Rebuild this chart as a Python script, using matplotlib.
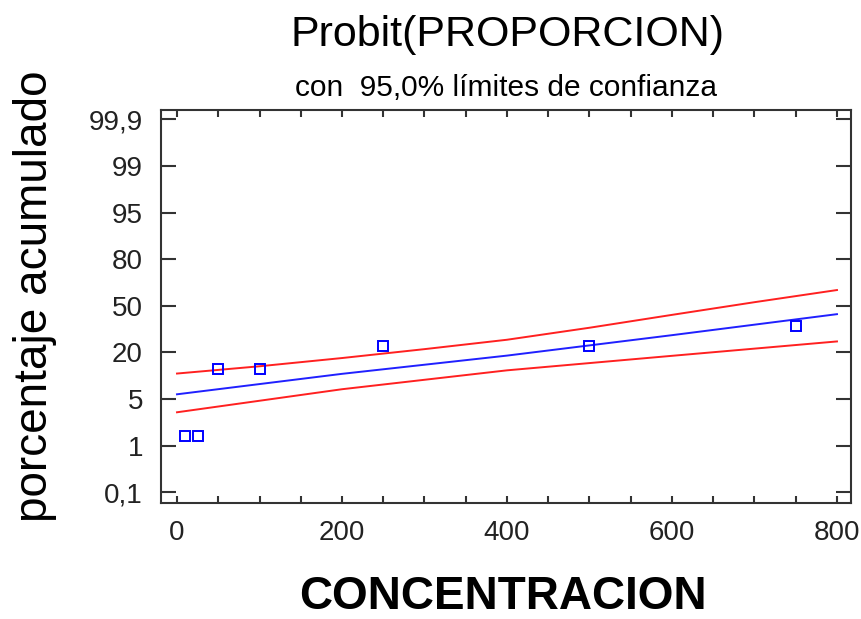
# -*- coding: utf-8 -*-
# Probit plot: porcentaje acumulado vs CONCENTRACION, with 95% confidence bands

from statistics import NormalDist
import numpy as np
import matplotlib
matplotlib.use("Agg")
import matplotlib.pyplot as plt
from matplotlib.ticker import MultipleLocator, NullLocator


# data
conc = [10, 25, 50, 100, 250, 500, 750]
pct_obs = [1.45, 1.45, 12.9, 12.8, 23.4, 23.3, 35.9]

line_x = [0, 200, 400, 600, 800]
pct_fit = [5.9, 11.3, 18.5, 29.8, 44.0]
pct_lower = [3.3, 7.0, 12.5, 18.4, 26.0]
upper_x = [0, 100, 200, 300, 400, 500, 600, 700, 800]
pct_upper = [11.4, 14.0, 17.4, 21.7, 27.0, 34.6, 43.5, 52.6, 61.2]

ytick_pct = [0.1, 1, 5, 20, 50, 80, 95, 99, 99.9]
ytick_labels = ["0,1", "1", "5", "20", "50", "80", "95", "99", "99,9"]


# probit axis as Statgraphics draws it: labels equally spaced
_nd = NormalDist()
_probit = np.vectorize(lambda p: _nd.inv_cdf(min(max(p, 1e-6), 100 - 1e-6) / 100.0),
                       otypes=[float])
_cdf = np.vectorize(lambda z: 100.0 * _nd.cdf(z), otypes=[float])
tick_z = _probit(ytick_pct)
tick_idx = np.arange(len(ytick_pct), dtype=float)


def forward(p):
    z = _probit(np.asarray(p, dtype=float))
    # extend linearly beyond end ticks
    lo = tick_idx[0] + (z - tick_z[0]) / (tick_z[1] - tick_z[0])
    hi = tick_idx[-1] + (z - tick_z[-1]) / (tick_z[-1] - tick_z[-2])
    mid = np.interp(z, tick_z, tick_idx)
    return np.where(z < tick_z[0], lo, np.where(z > tick_z[-1], hi, mid))


def inverse(i):
    i = np.asarray(i, dtype=float)
    lo = tick_z[0] + (i - tick_idx[0]) * (tick_z[1] - tick_z[0])
    hi = tick_z[-1] + (i - tick_idx[-1]) * (tick_z[-1] - tick_z[-2])
    mid = np.interp(i, tick_idx, tick_z)
    z = np.where(i < tick_idx[0], lo, np.where(i > tick_idx[-1], hi, mid))
    return _cdf(z)


plt.rcParams["font.family"] = ["Liberation Sans", "DejaVu Sans"]

fig = plt.figure(figsize=(8.61, 6.19), dpi=100)
ax = fig.add_axes([161 / 861, 1 - 503 / 619, 690 / 861, 393 / 619])
ax.set_yscale("function", functions=(forward, inverse))

ax.plot(upper_x, pct_upper, color="#ff2020", lw=1.4)
ax.plot(line_x, pct_lower, color="#ff2020", lw=1.4)
ax.plot(line_x, pct_fit, color="#2020ff", lw=1.4)
ax.plot(conc, pct_obs, ls="none", marker="s", ms=6.5, mfc="none",
        mec="#0000ff", mew=1.4)

ax.set_xlim(-19.4, 817)
ax.set_ylim(float(inverse(-0.23)), float(inverse(8.2)))
ax.set_yticks(ytick_pct)
ax.set_yticklabels(ytick_labels)
ax.yaxis.set_minor_locator(NullLocator())
ax.xaxis.set_major_locator(MultipleLocator(200))
ax.xaxis.set_minor_locator(MultipleLocator(50))

ax.tick_params(axis="both", which="both", direction="in", top=True, right=True,
               colors="#333333", labelcolor="#222222", width=1.5)
ax.tick_params(axis="y", which="major", length=11, labelsize=20, pad=13)
ax.tick_params(axis="x", which="major", length=5, labelsize=20, pad=12)
ax.tick_params(axis="x", which="minor", length=5)
for s in ax.spines.values():
    s.set_linewidth(1.5)
    s.set_color("#333333")

fig.text(507 / 861, 1 - 35 / 619, "Probit(PROPORCION)", ha="center", va="center",
         fontsize=31)
fig.text(506 / 861, 1 - 88 / 619, "con  95,0% límites de confianza", ha="center",
         va="center", fontsize=21.5)
fig.text(35 / 861, 1 - 296 / 619, "porcentaje acumulado", rotation=90,
         ha="center", va="center", fontsize=33)
fig.text(503 / 861, 1 - 597 / 619, "CONCENTRACION", ha="center", va="center",
         fontsize=33, fontweight="bold")

fig.savefig("out.png", dpi=100)
